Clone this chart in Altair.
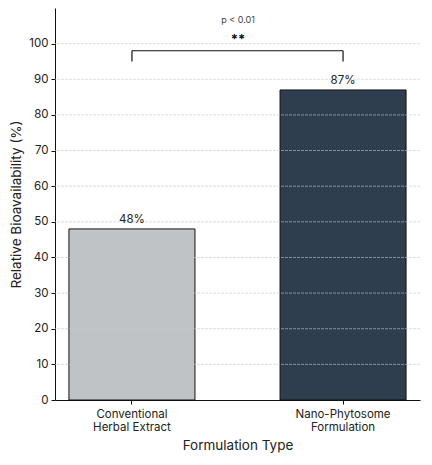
import altair as alt
import pandas as pd

categories = ["Conventional Herbal Extract", "Nano-Phytosome Formulation"]
values = [48, 87]
value_labels = ["48%", "87%"]
bar_colors = ["#bfc3c6", "#2e3e4f"]
y_ticks = [0, 10, 20, 30, 40, 50, 60, 70, 80, 90, 100]

bracket_y = 98
bracket_drop = 95
sig_text = "**"
p_text = "p < 0.01"

FONT = "Inter"
Y_TITLE = "Relative Bioavailability (%)"

df = pd.DataFrame({"cat": categories, "val": values, "lbl": value_labels, "color": bar_colors})

label_expr = ("datum.value == '%s' ? ['Conventional','Herbal Extract'] : ['Nano-Phytosome','Formulation']"
              % categories[0])

x_axis = alt.Axis(labelExpr=label_expr, labelAngle=0, labelFontSize=11.5, labelColor="#222",
                  titleFontSize=13.5, titleFontWeight="normal", titleColor="#222",
                  domainColor="#111", tickColor="#111", tickSize=4, labelPadding=4,
                  titlePadding=6, labelLineHeight=13, grid=False, labelFont=FONT, titleFont=FONT)
x_scale = alt.Scale(paddingInner=0.403, paddingOuter=0.066)
y_scale = alt.Scale(domain=[0, 110], nice=False)
y_axis = alt.Axis(values=y_ticks, labelFontSize=11.5, labelColor="#222", titleFontSize=13.5,
                  titleFontWeight="normal", titleColor="#222", domainColor="#111",
                  tickColor="#111", tickSize=4, labelPadding=3, titlePadding=5, grid=False,
                  labelFont=FONT, titleFont=FONT)


def X(field):
    return alt.X(field, type="nominal", sort=categories, scale=x_scale, axis=x_axis, title="Formulation Type")


def Y(field):
    return alt.Y(field, type="quantitative", scale=y_scale, axis=y_axis, title=Y_TITLE)


bars = alt.Chart(df).mark_bar(stroke="#111", strokeWidth=1).encode(
    x=X("cat"), y=Y("val"), color=alt.Color("color:N", scale=None),
)

grid_df = pd.DataFrame({"g": [v for v in y_ticks if v > 0]})
grid = alt.Chart(grid_df).mark_rule(color="#c8c8c8", opacity=0.6, strokeDash=[3, 1], strokeWidth=1).encode(
    y=Y("g")
)

texts = alt.Chart(df).mark_text(dy=-9, fontSize=11.5, color="#222", font=FONT).encode(
    x=X("cat"), y=Y("val"), text="lbl:N"
)

br = pd.DataFrame({"a": [categories[0]], "b": [categories[1]], "y": [bracket_y]})
hline = alt.Chart(br).mark_rule(color="#111", strokeWidth=1.2).encode(
    x=X("a"), x2="b", y=Y("y")
)
vl = pd.DataFrame({"c": categories, "y1": [bracket_drop] * 2, "y2": [bracket_y] * 2})
vlines = alt.Chart(vl).mark_rule(color="#111", strokeWidth=1.2).encode(
    x=X("c"), y=Y("y1"), y2="y2"
)
st = pd.DataFrame({"t": [sig_text], "p": [p_text], "y": [bracket_y]})
ptext = alt.Chart(st).mark_text(fontSize=9, color="#444", dy=-31, font=FONT).encode(
    x=alt.value(183), y=Y("y"), text="p:N"
)
stars = alt.Chart(st).mark_text(fontSize=13, fontWeight="bold", color="#111", dy=-11, font=FONT).encode(
    x=alt.value(183), y=Y("y"), text="t:N"
)

chart = alt.layer(bars, grid, texts, hline, vlines, stars, ptext).properties(
    width=365, height=392,
    autosize=alt.AutoSizeParams(type="none"),
    padding={"left": 47, "top": 0, "right": 4, "bottom": 57},
).configure_view(stroke=None)

chart.save("out.html", embed_options={"renderer": "svg", "actions": False})
